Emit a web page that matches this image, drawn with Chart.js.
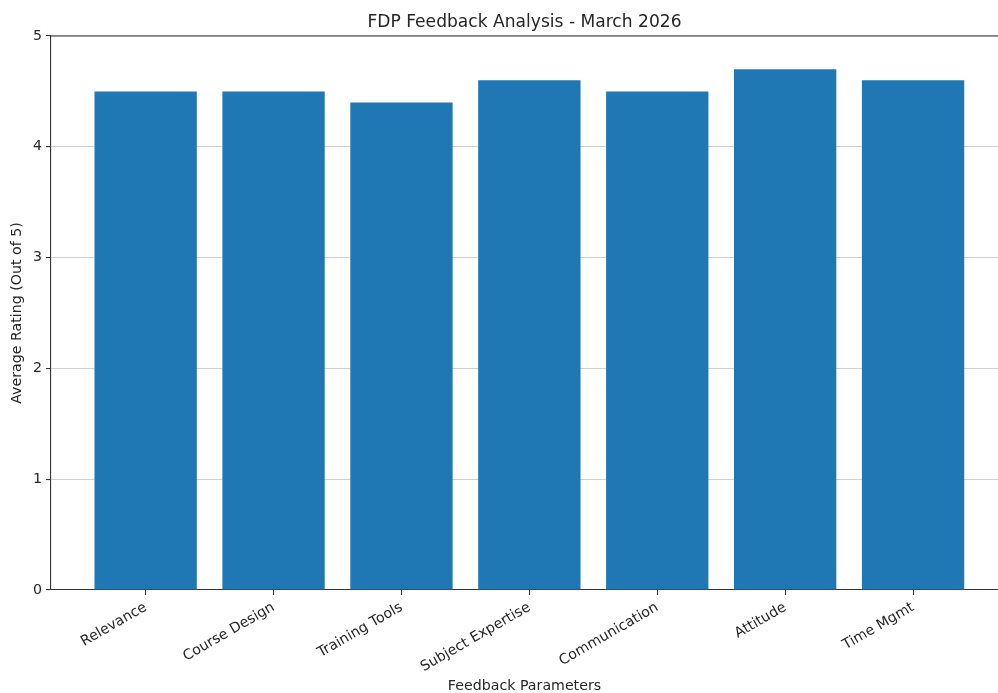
<!DOCTYPE html>
<html>
<head>
<meta charset="utf-8">
<script src="https://cdn.jsdelivr.net/npm/chart.js@4"></script>
<style>
  body { margin: 0; background: #fff; }
  #wrap { width: 998px; height: 693px; }
</style>
</head>
<body>
<div id="wrap"><canvas id="MyChart"></canvas></div>
<script>
const categories = ['Relevance', 'Course Design', 'Training Tools', 'Subject Expertise', 'Communication', 'Attitude', 'Time Mgmt'];
const ratings = [4.5, 4.5, 4.4, 4.6, 4.5, 4.7, 4.6];
const yTicks = [0, 1, 2, 3, 4, 5];

const font = 'DejaVu Sans';
const ink = '#262626';

// top spine (the right one falls outside the picture)
const frame = {
    id: 'frame',
    afterDraw(chart) {
        const a = chart.chartArea;
        const ctx = chart.ctx;
        ctx.save();
        ctx.strokeStyle = '#333';
        ctx.lineWidth = 1.1;
        ctx.beginPath();
        ctx.moveTo(a.left, a.top);
        ctx.lineTo(a.right, a.top);
        ctx.stroke();
        ctx.restore();
    }
};

const data = {
    datasets: [{
        label: 'Average Rating',
        backgroundColor: '#1f77b4',
        borderWidth: 0,
        data: ratings.map((v, i) => ({ x: i, y: v })),
        barPercentage: 0.8,
        categoryPercentage: 1
    }]
};

const config = {
    type: 'bar',
    data: data,
    options: {
        responsive: true,
        maintainAspectRatio: false,
        animation: false,
        layout: { padding: 0 },
        plugins: {
            legend: { display: false },
            tooltip: { enabled: false },
            title: {
                display: true,
                fullSize: false,
                text: 'FDP Feedback Analysis - March 2026',
                color: ink,
                font: { family: font, size: 17.1, weight: 'normal' },
                padding: { top: 12, bottom: 3.5 }
            }
        },
        scales: {
            x: {
                type: 'linear',
                min: -0.74,
                max: 6.664,
                offset: false,
                afterBuildTicks: s => { s.ticks = categories.map((c, i) => ({ value: i })); },
                afterFit: s => { s.height = 103; },
                ticks: {
                    autoSkip: false,
                    minRotation: 30,
                    maxRotation: 30,
                    padding: 4,
                    color: ink,
                    font: { family: font, size: 14.2 },
                    callback: v => categories[v]
                },
                grid: { offset: false, drawOnChartArea: false, color: '#333', tickLength: 5, lineWidth: 1.1 },
                border: { display: true, color: '#333', width: 1.1 },
                title: {
                    display: true,
                    text: 'Feedback Parameters',
                    color: ink,
                    font: { family: font, size: 14.2, lineHeight: 1 },
                    padding: { top: 0, bottom: 0 }
                }
            },
            y: {
                min: 0,
                max: 5,
                z: 1,
                afterBuildTicks: s => { s.ticks = yTicks.map(v => ({ value: v })); },
                afterFit: s => { s.width = 51; },
                ticks: {
                    padding: 4,
                    color: ink,
                    font: { family: font, size: 14.2 }
                },
                grid: {
                    color: 'rgba(176,176,176,0.6)',
                    tickColor: '#333',
                    tickLength: 5,
                    lineWidth: 1.1
                },
                border: { display: true, color: '#333', width: 1.1 },
                title: {
                    display: true,
                    text: 'Average Rating (Out of 5)',
                    color: ink,
                    font: { family: font, size: 14.2 },
                    padding: { top: 9, bottom: 9 }
                }
            }
        }
    },
    plugins: [frame]
};

const myChart = new Chart(document.getElementById('MyChart'), config);
</script>
</body>
</html>
